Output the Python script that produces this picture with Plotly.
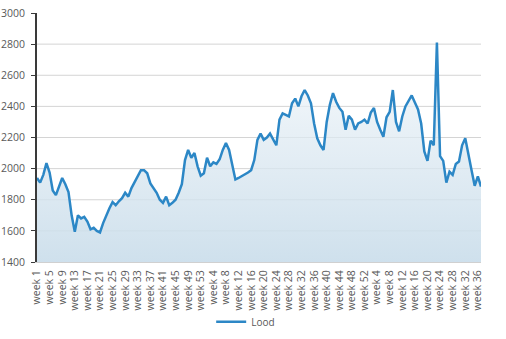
import plotly.graph_objects as go

# Weeks per season shown on the axis
year_lengths = [53, 52, 37]

# Weekly load values (Lood)
lood = [
    1940, 1910, 1960, 2035, 1975, 1860, 1830, 1880, 1940, 1900,
    1850, 1700, 1595, 1700, 1680, 1690, 1660, 1610, 1620, 1600,
    1590, 1650, 1700, 1745, 1785, 1765, 1790, 1810, 1845, 1820,
    1875, 1915, 1950, 1990, 1990, 1970, 1905, 1875, 1845, 1800,
    1780, 1820, 1765, 1780, 1800, 1845, 1900, 2055, 2120, 2070,
    2100, 2015, 1955, 1970, 2070, 2015, 2040, 2030, 2060, 2120,
    2165, 2120, 2025, 1930, 1940, 1950, 1960, 1975, 1990, 2055,
    2185, 2225, 2185, 2200, 2225, 2190, 2150, 2315, 2355, 2345,
    2335, 2420, 2450, 2400, 2465, 2505, 2470, 2420, 2290, 2195,
    2150, 2120, 2300, 2410, 2485, 2430, 2390, 2365, 2250, 2340,
    2315, 2250, 2290, 2300, 2315, 2290, 2360, 2390, 2300, 2250,
    2205, 2330, 2365, 2505, 2300, 2240, 2335, 2400, 2440, 2470,
    2425, 2380, 2290, 2110, 2050, 2180, 2150, 2810, 2080, 2050,
    1910, 1980, 1960, 2030, 2045, 2150, 2195, 2080, 1990, 1890,
    1950, 1885,
]

week_labels = [f"week {w}" for n in year_lengths for w in range(1, n + 1)]
x = list(range(len(lood)))

# Axis tick labels: every fourth week
tick_step = 4
tickvals = x[::tick_step]
ticktext = week_labels[::tick_step]

y_ticks = [1400, 1600, 1800, 2000, 2200, 2400, 2600, 2800, 3000]
grid_values = [1600, 1800, 2000, 2200, 2400, 2600, 2800]

line_color = "#2c87c6"
text_color = "#595959"
font_family = "Open Sans, Noto Sans, sans-serif"

fig = go.Figure()

# Shaded area under the curve
fig.add_trace(go.Scatter(
    x=x, y=lood, mode="lines", line=dict(width=0),
    fill="tozeroy",
    fillgradient=dict(
        type="vertical", start=1400, stop=3000,
        colorscale=[[0, "rgba(200,220,234,0.88)"], [0.55, "rgba(224,235,243,0.72)"],
                    [1, "rgba(255,255,255,0.6)"]],
    ),
    showlegend=False, hoverinfo="skip",
))

# Load line
fig.add_trace(go.Scatter(
    x=x, y=lood, mode="lines", name="Lood",
    line=dict(color=line_color, width=2.5),
))

shapes = [
    dict(type="line", xref="paper", yref="y", x0=0, x1=1, y0=v, y1=v,
         line=dict(color="#d4d4d4", width=1), layer="below")
    for v in grid_values
]

fig.update_layout(
    width=506, height=339,
    margin=dict(l=37, r=25, t=13, b=77, autoexpand=False),
    paper_bgcolor="white", plot_bgcolor="white",
    font=dict(family=font_family, size=10, color=text_color),
    shapes=shapes,
    showlegend=True,
    legend=dict(orientation="h", x=0.47, xanchor="center", y=-0.24, yanchor="middle",
                font=dict(size=10, color=text_color), itemwidth=30,
                bgcolor="rgba(0,0,0,0)"),
    xaxis=dict(
        range=[0, len(lood) - 1], tickmode="array", tickvals=tickvals, ticktext=ticktext,
        tickangle=-90, showgrid=False, zeroline=False, automargin=False,
        showline=True, linecolor="#d0d0d0", linewidth=1, ticks="",
        ticklabelstandoff=3,
        tickfont=dict(size=10.5, color=text_color),
    ),
    yaxis=dict(
        range=[1400, 3000], tickmode="array", tickvals=y_ticks,
        showgrid=False, zeroline=False, automargin=False,
        showline=True, linecolor="#3a3a3a", linewidth=2,
        ticks="outside", ticklen=4, tickwidth=1, tickcolor="#3a3a3a",
        ticklabelstandoff=4,
        tickfont=dict(size=10.5, color=text_color),
    ),
)

fig.write_html("out.html")
